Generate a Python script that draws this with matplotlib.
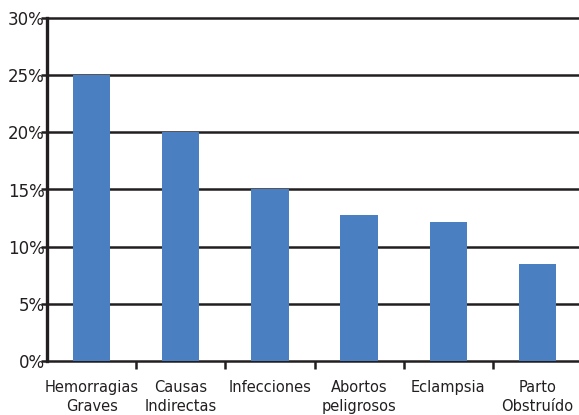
import numpy as np
import matplotlib
matplotlib.use("Agg")
import matplotlib.pyplot as plt
from matplotlib.ticker import FixedLocator

categories = ["Hemorragias\nGraves", "Causas\nIndirectas", "Infecciones",
              "Abortos\npeligrosos", "Eclampsia", "Parto\nObstruído"]
values = [25, 20, 15, 12.8, 12.2, 8.5]
yticks = [0, 5, 10, 15, 20, 25, 30]

bar_color = "#4a80c1"
ink = "#231f20"

fig = plt.figure(figsize=(5.79, 4.15), dpi=100)
ax = fig.add_axes([47 / 579, 54 / 415, 535 / 579, 343 / 415])

x = np.arange(len(categories))
ax.bar(x, values, width=0.42, color=bar_color, zorder=3)

ax.set_xlim(-0.5, len(categories) - 0.5)
ax.set_ylim(0, 30)

# horizontal grid lines (not clipped, so top/bottom stay full width)
for v in yticks:
    ax.axhline(v, color=ink, lw=1.8, zorder=2, clip_on=False)

ax.set_yticks(yticks)
ax.set_yticklabels([f"{v}%" for v in yticks])
ax.tick_params(axis="y", length=4, width=1.8, color=ink, pad=-2.5,
               labelsize=12, labelcolor=ink)

# category labels at centers, tick marks between categories
ax.set_xticks(x)
ax.set_xticklabels(categories, linespacing=1.3)
ax.tick_params(axis="x", which="major", length=0, pad=14,
               labelsize=10.5, labelcolor=ink)
ax.xaxis.set_minor_locator(FixedLocator(x[:-1] + 0.5))
ax.tick_params(axis="x", which="minor", length=6, width=1.8, color=ink)

for s in ["top", "right", "bottom"]:
    ax.spines[s].set_visible(False)
ax.spines["left"].set_linewidth(2.4)
ax.spines["left"].set_color(ink)
ax.spines["left"].set_zorder(4)

fig.savefig("out.png", dpi=100)
